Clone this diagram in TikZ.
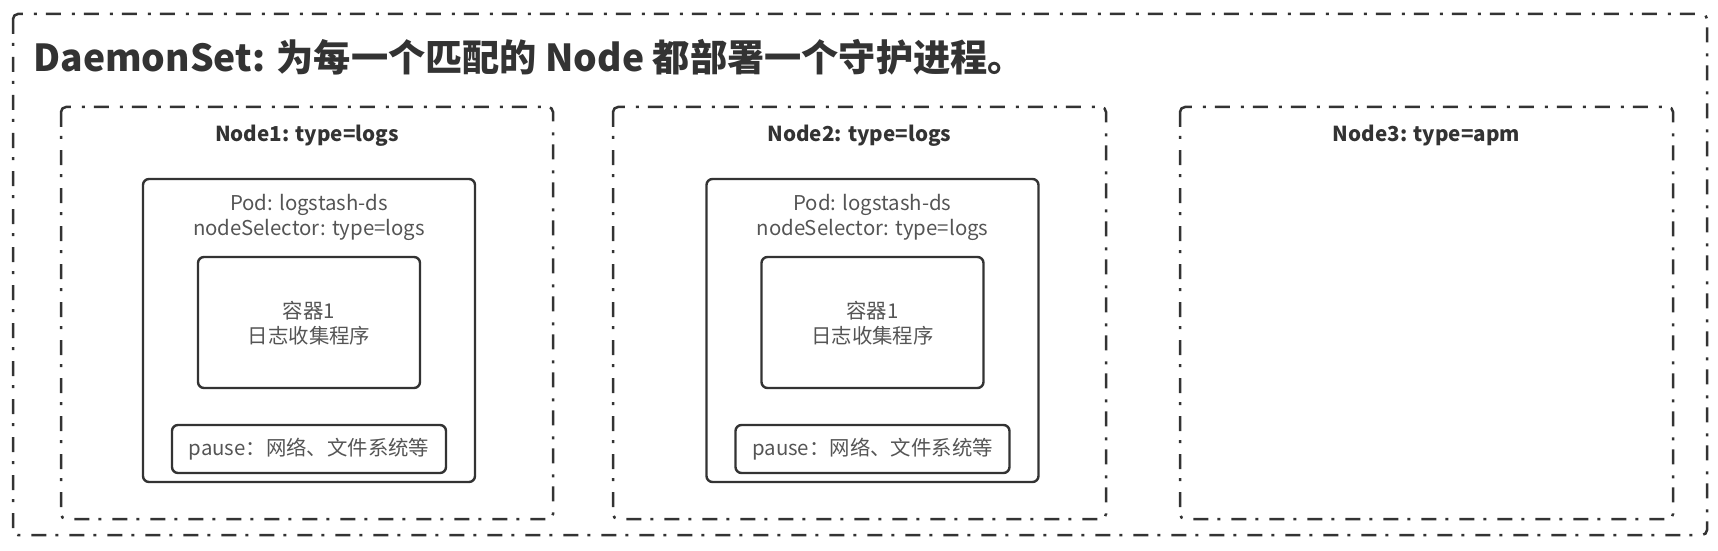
\documentclass[tikz,border=0pt]{standalone}
\usepackage{fontspec}
\setmainfont{Noto Sans CJK SC}
\usepackage{tikz}
\definecolor{linegray}{HTML}{333333}
\definecolor{textgray}{HTML}{555555}
\tikzset{
	dashdot box/.style={draw=linegray, line width=1.25pt, rounded corners=2.5pt, dash pattern=on 7.5pt off 4.5pt on 1.5pt off 5.5pt},
	solid box/.style={draw=linegray, line width=1.2pt, rounded corners=3pt},
	label text/.style={font=\bfseries\fontsize{10.3}{12}\selectfont, text=linegray},
	body text/.style={font=\fontsize{10.2}{12.5}\selectfont, text=textgray, align=center}
}
\newcommand{\logpod}[2] % {name}{x} du centre du pod
{
	\draw [solid box] (#2-166,179) rectangle (#2+166,482);
	\draw [solid box] (#2-111,257) rectangle (#2+111,388);
	\draw [solid box] (#2-137,425) rectangle (#2+137,473);
	\node [body text] (#1-pod) at (#2,217.5) {Pod: logstash-ds\\nodeSelector: type=logs};
	\node [body text] (#1-ctr) at (#2,323.5) {容器1\\日志收集程序};
	\node [body text] (#1-pause) at (#2,449) {pause：网络、文件系统等};
}
\begin{document}
\begin{tikzpicture}[x=0.5pt, y=-0.5pt]
	\useasboundingbox (0,0) rectangle (1718,551);
	%DaemonSet, trois nodes, deux pods.
	\draw [dashdot box] (13,14) rectangle (1707,535);
	\draw [dashdot box] (61,107) rectangle (553,519);
	\draw [dashdot box] (613,107) rectangle (1106,519);
	\draw [dashdot box] (1180,107) rectangle (1673,519);
	
	\node [anchor=base west, font=\bfseries\fontsize{18.6}{20}\selectfont, text=linegray, inner sep=0pt] (title) at (33,72) {DaemonSet: 为每一个匹配的 Node 都部署一个守护进程。};
	
	\node [label text] (node1) at (307,136) {Node1: type=logs};
	\node [label text] (node2) at (859.5,136) {Node2: type=logs};
	\node [label text] (node3) at (1426.5,136) {Node3: type=apm};
	
	\logpod{pod1}{309}
	\logpod{pod2}{872.5}
	
\end{tikzpicture}
\end{document}
